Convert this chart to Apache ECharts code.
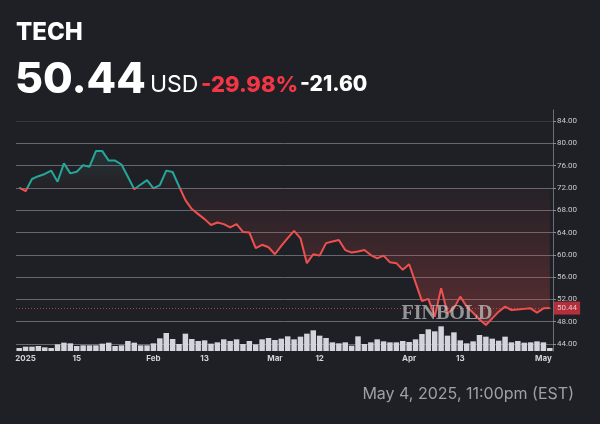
<!DOCTYPE html>
<html>
<head>
<meta charset="utf-8">
<script src="https://cdn.jsdelivr.net/npm/echarts@6.0.0/dist/echarts.min.js"></script>
<style>
html,body{margin:0;padding:0;background:#1e2025;}
#c{width:600px;height:424px;}
</style>
</head>
<body>
<div id="c"></div>
<script>
// ---- data ----
const dates = [
 '2024-12-31',
 '2025-01-02','2025-01-03','2025-01-06','2025-01-07','2025-01-08','2025-01-10','2025-01-13','2025-01-14','2025-01-15','2025-01-16',
 '2025-01-17','2025-01-21','2025-01-22','2025-01-23','2025-01-24','2025-01-27','2025-01-28','2025-01-29','2025-01-30','2025-01-31',
 '2025-02-03','2025-02-04','2025-02-05','2025-02-06','2025-02-07','2025-02-10','2025-02-11','2025-02-12','2025-02-13','2025-02-14',
 '2025-02-18','2025-02-19','2025-02-20','2025-02-21','2025-02-24','2025-02-25','2025-02-26','2025-02-27','2025-02-28',
 '2025-03-03','2025-03-04','2025-03-05','2025-03-06','2025-03-07','2025-03-10','2025-03-11','2025-03-12','2025-03-13','2025-03-14',
 '2025-03-17','2025-03-18','2025-03-19','2025-03-20','2025-03-21','2025-03-24','2025-03-25','2025-03-26','2025-03-27','2025-03-28','2025-03-31',
 '2025-04-01','2025-04-02','2025-04-03','2025-04-04','2025-04-07','2025-04-08','2025-04-09','2025-04-10','2025-04-11',
 '2025-04-14','2025-04-15','2025-04-16','2025-04-17','2025-04-21','2025-04-22','2025-04-23','2025-04-24','2025-04-25',
 '2025-04-28','2025-04-29','2025-04-30','2025-05-01','2025-05-02'
];
const prices = [
 72.04,71.4,73.6,74.1,74.5,75.1,73.1,76.4,74.6,74.9,
 76.05,75.8,78.6,78.6,76.9,76.9,76.2,74.0,71.75,72.6,
 73.4,71.9,72.5,75.1,74.85,72.3,69.8,68.2,67.3,66.4,
 65.35,65.8,65.5,64.9,65.5,64.1,64.0,61.2,61.8,61.35,
 60.1,61.6,63.0,64.3,62.95,58.5,60.1,59.85,62.1,62.4,
 62.65,60.85,60.4,60.6,60.85,59.95,59.35,59.85,58.65,58.5,
 57.3,58.3,55.0,51.7,52.1,48.9,54.0,49.5,50.4,52.5,
 50.7,49.6,48.4,47.4,48.6,49.8,50.7,50.1,50.2,50.3,
 50.4,49.6,50.4,50.44
];
const volumes = [
 9,13,13,15,11,9,20,25,23,15,
 17,17,17,22,25,15,17,30,25,17,
 17,23,38,54,36,21,52,36,30,32,
 22,26,35,30,35,21,30,20,35,39,
 33,37,44,35,43,52,62,46,39,26,
 23,26,16,44,21,26,35,29,26,26,
 30,27,35,51,65,59,74,46,56,32,
 23,29,48,43,37,31,43,26,30,25,
 26,29,26,9
];
const tickDates  = ['2025-01-02','2025-01-15','2025-02-03','2025-02-13','2025-03-03','2025-03-12','2025-04-01','2025-04-11','2025-05-01'];
const tickLabels = ['2025','15','Feb','13','Mar','12','Apr','13','May'];
const priceTicks = [44,48,52,56,60,64,68,72,76,80,84];
const symbol = 'TECH';
const lastPrice = 50.44;
const currency = 'USD';
const changePct = '-29.98%';
const changeAbs = '-21.60';
const baseline = 72.04;
const stamp = 'May 4, 2025, 11:00pm (EST)';

// ---- chart ----
const RED = '#ef4f4f', TEAL = '#26a69a';
const chart = echarts.init(document.getElementById('c'), null, {renderer: 'canvas'});
const gridColors = priceTicks.map(t => t === 84 ? '#34373e' : '#64676e');

chart.setOption({
  backgroundColor: '#1e2025',
  animation: false,
  grid: [
    {left: 16, right: 47, top: 121, bottom: 80, outerBoundsMode: 'none'},
    {left: 16, right: 47, top: 110, bottom: 73, outerBoundsMode: 'none'}
  ],
  xAxis: [
    {type: 'category', gridIndex: 0, data: dates, boundaryGap: true, show: false},
    {type: 'category', gridIndex: 1, data: dates, boundaryGap: true,
     axisLine: {show: false}, axisTick: {show: false},
     axisLabel: {
       interval: (i, v) => tickDates.indexOf(v) >= 0,
       formatter: v => tickLabels[tickDates.indexOf(v)],
       color: '#d1d4dc', fontSize: 8, fontWeight: 'bold', fontFamily: 'Inter', margin: 4,
       hideOverlap: false
     }}
  ],
  yAxis: [
    {type: 'value', gridIndex: 0, position: 'right', min: 44, max: 84, interval: 4,
     axisLine: {show: false},
     axisTick: {show: true, length: 3, lineStyle: {color: '#8a8d95'}},
     axisLabel: {formatter: v => v.toFixed(2), color: '#c9cbd1', fontSize: 8, fontFamily: 'Roboto', margin: 4},
     splitLine: {show: true, lineStyle: {color: gridColors, width: 1}}},
    {type: 'value', gridIndex: 1, position: 'right', min: 0, max: 723,
     axisLine: {show: true, lineStyle: {color: '#6b6e76', width: 1}},
     axisTick: {show: false}, axisLabel: {show: false}, splitLine: {show: false}}
  ],
  visualMap: [
    {type: 'continuous', show: false, seriesIndex: 0, dimension: 1, min: 46, max: baseline,
     inRange: {color: ['rgba(239,79,79,0.30)', 'rgba(239,79,79,0.03)']},
     outOfRange: {color: ['rgba(0,0,0,0)']}},
    {type: 'continuous', show: false, seriesIndex: 1, dimension: 1, min: baseline, max: 80,
     inRange: {color: ['rgba(38,166,154,0.0)', 'rgba(38,166,154,0.16)']},
     outOfRange: {color: ['rgba(0,0,0,0)']}},
    {type: 'piecewise', show: false, seriesIndex: 2, dimension: 1,
     pieces: [{gt: 0, lte: baseline, color: RED}, {gt: baseline, lte: 200, color: TEAL}],
     outOfRange: {color: RED}}
  ],
  series: [
    {type: 'line', xAxisIndex: 0, yAxisIndex: 0, data: prices, symbol: 'none', silent: true,
     lineStyle: {width: 0}, areaStyle: {origin: baseline, opacity: 1}, z: 1},
    {type: 'line', xAxisIndex: 0, yAxisIndex: 0, data: prices, symbol: 'none', silent: true,
     lineStyle: {width: 0}, areaStyle: {origin: baseline, opacity: 1}, z: 1},
    {type: 'line', xAxisIndex: 0, yAxisIndex: 0, data: prices, symbol: 'none', z: 4,
     lineStyle: {width: 2}},
    {type: 'bar', xAxisIndex: 1, yAxisIndex: 1, data: volumes, barCategoryGap: '14%',
     itemStyle: {color: '#d3d4dc'}, z: 3},
    {type: 'line', xAxisIndex: 0, yAxisIndex: 0, data: [], symbol: 'none', z: 5,
     markLine: {silent: true, symbol: 'none',
       lineStyle: {color: RED, type: [1, 2], width: 1, opacity: 0.7},
       label: {position: 'end', formatter: () => lastPrice.toFixed(2), color: '#fff',
               backgroundColor: '#f23645', fontSize: 8, fontFamily: 'Roboto', padding: [3, 3, 2, 3], distance: 1},
       data: [{yAxis: lastPrice}]}}
  ],
  graphic: [
    {type: 'text', left: 16, top: 21, style: {text: symbol, fill: '#ffffff', font: '800 24px Inter'}},
    {type: 'text', x: 15, y: 80, style: {text: lastPrice.toFixed(2), fill: '#ffffff', font: '800 43px Inter', verticalAlign: 'middle'}},
    {type: 'text', x: 150, y: 85, style: {text: currency, fill: '#ffffff', font: '400 23px Inter', verticalAlign: 'middle'}},
    {type: 'text', x: 201, y: 85, style: {text: changePct, fill: '#f23645', font: '800 22px Inter', verticalAlign: 'middle'}},
    {type: 'text', x: 300, y: 85, style: {text: changeAbs, fill: '#ffffff', font: '800 21px Inter', verticalAlign: 'middle'}},
    {type: 'text', x: 574, y: 394, style: {text: stamp, fill: '#9da0a7', font: '400 16px Inter', align: 'right', verticalAlign: 'middle'}},
    {type: 'text', x: 447, y: 314, z: 10, style: {text: 'FINBOLD', fill: 'rgba(200,200,200,0.7)', font: 'bold 20px "Liberation Serif"', align: 'center', verticalAlign: 'middle'}}
  ]
});
</script>
</body>
</html>
